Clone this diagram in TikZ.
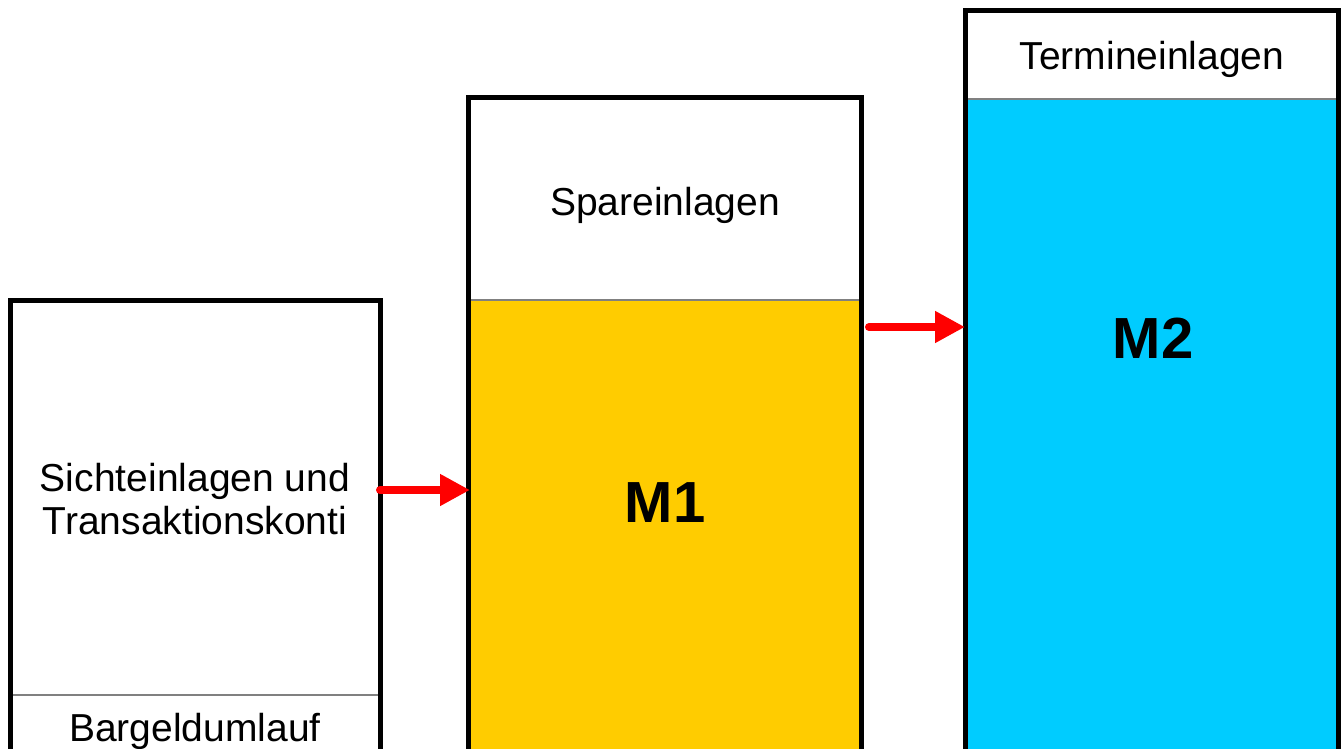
\documentclass[tikz,border=0pt]{standalone}
\usepackage{fontspec}
\setmainfont{Liberation Sans}
\usetikzlibrary{arrows.meta}
\definecolor{mone}{HTML}{FFCC00}
\definecolor{mtwo}{HTML}{00CCFF}
\definecolor{divgray}{HTML}{808080}
\begin{document}
\begin{tikzpicture}[x=0.5pt,y=-0.5pt,
  box/.style={draw=black,line width=2.5pt,rectangle,inner sep=0pt,outer sep=0pt,anchor=north west},
  lbl/.style={font=\fontsize{19.5pt}{21.5pt}\selectfont, inner sep=0pt, align=center},
  big/.style={font=\fontsize{29pt}{32pt}\selectfont\bfseries, inner sep=0pt},
  arr/.style={draw=red, line width=4pt, line cap=round, -{Triangle[length=15pt,width=15pt]}},
  divider/.style={draw=divgray, line width=1pt}]
\useasboundingbox (0,0) rectangle (1343,749);
\clip (0,0) rectangle (1343,749);
% fills
\fill[mone] (468,300) rectangle (861,780);
\fill[mtwo] (965,99) rectangle (1338,780);
% dividers
\draw[divider] (10,695) -- (380,695);
\draw[divider] (468,300) -- (861,300);
\draw[divider] (965,99) -- (1338,99);
% boxes
\node[box, minimum width=185pt, minimum height=240pt] (b1) at (10,300) {};
\node[box, minimum width=196.5pt, minimum height=341pt] (b2) at (468,98) {};
\node[box, minimum width=186.5pt, minimum height=385pt] (b3) at (965,11) {};
% texts
\node[lbl] (t1) at (195,499) {Sichteinlagen und\\Transaktionskonti};
\node[lbl, anchor=base] (t2) at (195,741) {Bargeldumlauf};
\node[lbl, anchor=base] (t3) at (665,215) {Spareinlagen};
\node[lbl, anchor=base] (t4) at (1152,69.5) {Termineinlagen};
\node[big, anchor=base] (m1) at (665,522) {M1};
\node[big, anchor=base] (m2) at (1153,358) {M2};
% arrows
\coordinate (a1s) at (380,490);
\coordinate (a1e) at (470,490);
\coordinate (a2s) at (869,327);
\coordinate (a2e) at (965,327);
\draw[arr] (a1s) -- (a1e);
\draw[arr] (a2s) -- (a2e);
\end{tikzpicture}
\end{document}
